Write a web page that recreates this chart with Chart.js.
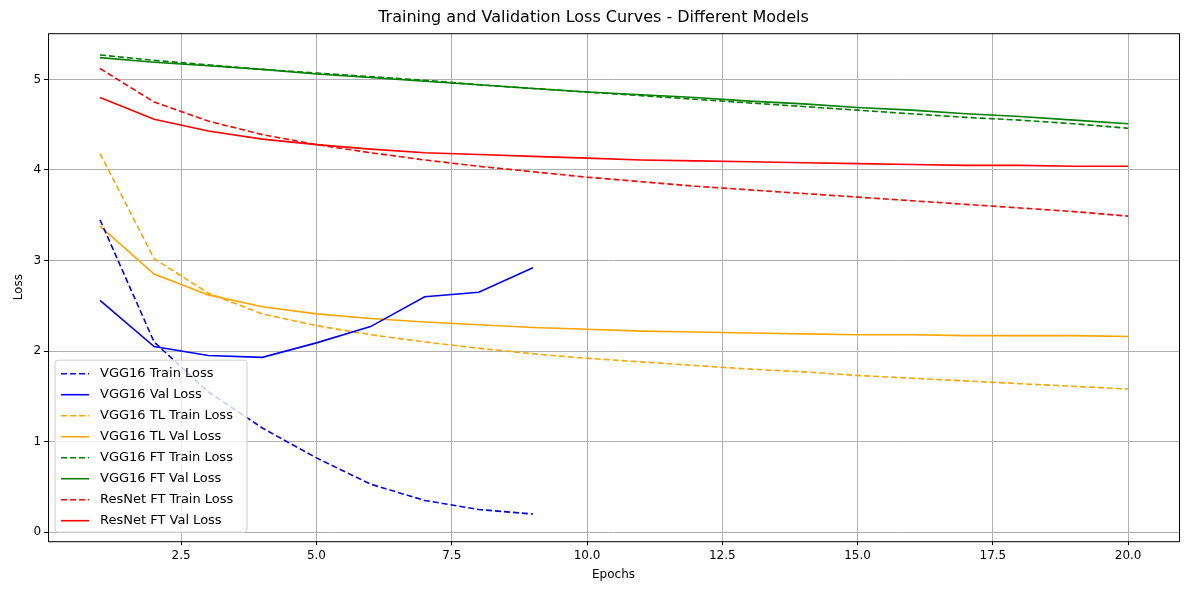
<!DOCTYPE html>
<html><head><meta charset="utf-8">
<script src="https://cdn.jsdelivr.net/npm/chart.js@4/dist/chart.umd.min.js"></script>
<style>html,body{margin:0;background:#fff}#w{width:1189px;height:590px}</style>
</head><body><div id="w"><canvas id="c"></canvas></div>
<script>
const epochs = Array.from({length:20},(_,i)=>i+1);
const vggTrain = [3.45,2.1,1.55,1.15,0.82,0.53,0.35,0.25,0.2];
const vggVal = [2.56,2.05,1.95,1.93,2.09,2.27,2.6,2.65,2.92];
const tlTrain = [4.18,3.02,2.64,2.41,2.28,2.18,2.1,2.03,1.97,1.92,1.88,1.84,1.80,1.77,1.73,1.70,1.67,1.64,1.61,1.58];
const tlVal = [3.38,2.85,2.62,2.49,2.41,2.36,2.32,2.29,2.26,2.24,2.22,2.21,2.20,2.19,2.18,2.18,2.17,2.17,2.17,2.16];
const ftTrain = [5.27,5.21,5.16,5.11,5.07,5.03,4.99,4.94,4.90,4.86,4.82,4.78,4.74,4.70,4.66,4.62,4.58,4.55,4.51,4.46];
const ftVal = [5.24,5.19,5.15,5.11,5.06,5.02,4.98,4.94,4.90,4.86,4.83,4.80,4.76,4.73,4.69,4.66,4.62,4.59,4.55,4.51];
const resTrain = [5.12,4.75,4.54,4.39,4.28,4.19,4.11,4.04,3.98,3.92,3.87,3.82,3.78,3.74,3.70,3.66,3.62,3.58,3.54,3.49];
const resVal = [4.80,4.56,4.43,4.34,4.28,4.23,4.19,4.17,4.15,4.13,4.11,4.10,4.09,4.08,4.07,4.06,4.05,4.05,4.04,4.04];
const xTicks = [2.5,5,7.5,10,12.5,15,17.5,20];
const yTicks = [0,1,2,3,4,5];

const pts = a => a.map((v,i)=>({x:epochs[i],y:v}));
const ds = (label,data,color,dash)=>({label,data:pts(data),borderColor:color,backgroundColor:color,borderWidth:1.6,borderDash:dash?[6,3]:[],pointRadius:0,tension:0});
const sets = [
 ds('VGG16 Train Loss',vggTrain,'blue',true),
 ds('VGG16 Val Loss',vggVal,'blue',false),
 ds('VGG16 TL Train Loss',tlTrain,'orange',true),
 ds('VGG16 TL Val Loss',tlVal,'orange',false),
 ds('VGG16 FT Train Loss',ftTrain,'green',true),
 ds('VGG16 FT Val Loss',ftVal,'green',false),
 ds('ResNet FT Train Loss',resTrain,'red',true),
 ds('ResNet FT Val Loss',resVal,'red',false)
];
const F = "'DejaVu Sans', sans-serif";
const frame = {id:'frame',afterDraw(ch){
  const c=ch.ctx,a=ch.chartArea;
  c.save();c.strokeStyle='#000';c.lineWidth=1;c.strokeRect(a.left+0.5,a.top+0.5,a.right-a.left,a.bottom-a.top);
  const x0=a.left+7,rowH=21,n=ch.data.datasets.length,h=n*rowH+4,w=192,y0=a.bottom-9-h;
  c.fillStyle='rgba(255,255,255,0.8)';c.strokeStyle='#ccc';
  c.beginPath();c.roundRect(x0,y0,w,h,3);c.fill();c.stroke();
  c.font='13px '+F;c.textBaseline='middle';
  ch.data.datasets.forEach((d,i)=>{
    const y=y0+2+rowH*i+rowH/2+1;
    c.strokeStyle=d.borderColor;c.lineWidth=1.6;c.setLineDash(d.borderDash);
    c.beginPath();c.moveTo(x0+6,y);c.lineTo(x0+34,y);c.stroke();c.setLineDash([]);
    c.fillStyle='#000';c.fillText(d.label,x0+45,y);
  });
  c.restore();
}};
new Chart(document.getElementById('c'),{type:'line',data:{datasets:sets},plugins:[frame],
options:{responsive:true,maintainAspectRatio:false,animation:false,
 layout:{padding:{left:8,right:10,top:0,bottom:4}},
 plugins:{legend:{display:false},tooltip:{enabled:false},
  title:{display:true,text:'Training and Validation Loss Curves - Different Models',color:'#000',font:{family:F,size:16,weight:'normal'},padding:{top:8,bottom:6}}},
 scales:{
  x:{type:'linear',min:0.04,max:20.94,
   afterBuildTicks:s=>{s.ticks=xTicks.map(v=>({value:v}));},
   ticks:{callback:v=>v.toFixed(1),color:'#000',font:{family:F,size:12},maxRotation:0,autoSkip:false},
   grid:{color:'#b0b0b0',tickColor:'#000',tickLength:4},border:{display:false},
   title:{display:true,text:'Epochs',color:'#000',font:{family:F,size:12},padding:{top:2}}},
  y:{type:'linear',min:-0.1,max:5.51,
   afterBuildTicks:s=>{s.ticks=yTicks.map(v=>({value:v}));},
   ticks:{callback:v=>String(v),color:'#000',font:{family:F,size:12},autoSkip:false},
   grid:{color:'#b0b0b0',tickColor:'#000',tickLength:4},border:{display:false},
   title:{display:true,text:'Loss',color:'#000',font:{family:F,size:12},padding:{bottom:4}}}
 }}});
</script></body></html>
